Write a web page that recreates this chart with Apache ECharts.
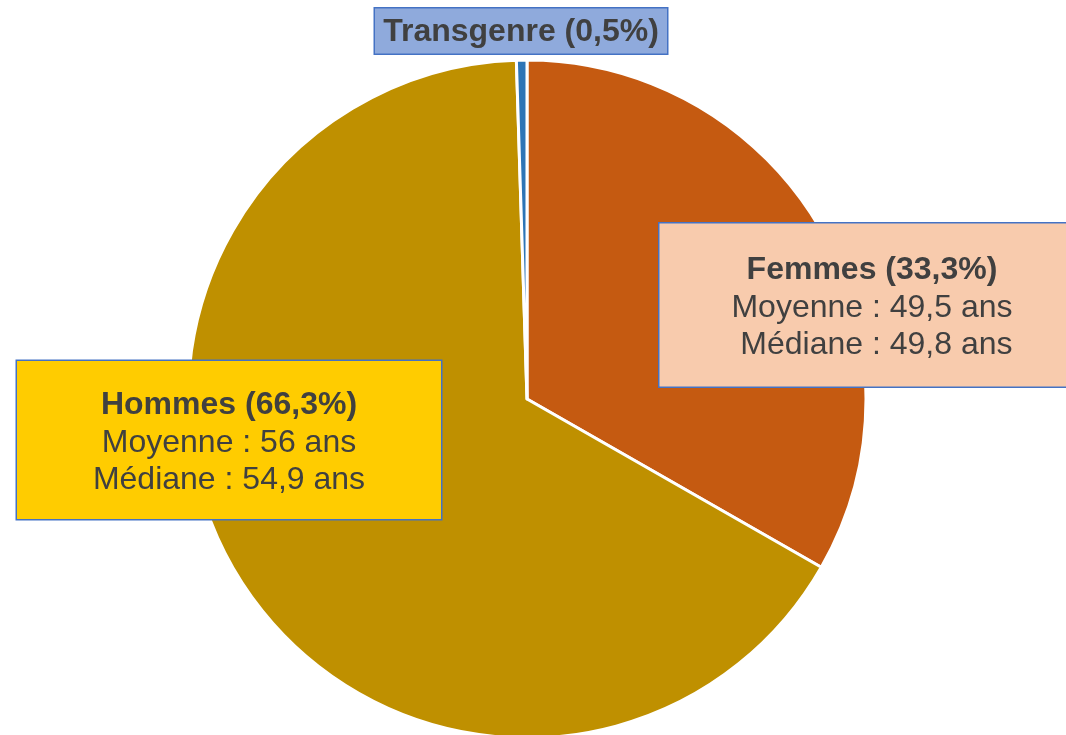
<!DOCTYPE html>
<html>
<head>
<meta charset="utf-8">
<script src="https://cdn.jsdelivr.net/npm/echarts@6/dist/echarts.min.js"></script>
<style>
  html, body { margin: 0; padding: 0; background: #fff; }
  #chart { width: 1066px; height: 735px; }
</style>
</head>
<body>
<div id="chart"></div>
<script>
// data
const categories = ['Femmes', 'Hommes', 'Transgenre'];
const shares = [33.3, 66.3, 0.5];
const meanAges = ['49,5', '56', null];
const medianAges = ['49,8', '54,9', null];

const sliceColors = ['#C55A11', '#BF9000', '#2E75B6'];
const boxColors = ['#F8CBAD', '#FFCC00', '#8FAADC'];
// label box centres, sizes and text nudge (layout only)
const boxLayout = [
  { x: 872, y: 305, w: 425, h: 163, dy: 3 },
  { x: 229, y: 440, w: 424, h: 158, dy: 3 },
  { x: 521, y: 31, w: 292, h: 45, dy: 1 }
];

const fmt = v => String(v).replace('.', ',');
const FONT = '"Liberation Sans", Arial, sans-serif';
const LH = 37.5;

const chart = echarts.init(document.getElementById('chart'));

const data = categories.map((name, i) => {
  let lines = ['{b|' + name + ' (' + fmt(shares[i]) + '%)}'];
  if (meanAges[i] !== null) {
    lines.push('{r|Moyenne : ' + meanAges[i] + ' ans}');
    lines.push('{r|' + (i === 0 ? ' ' : '') + 'Médiane : ' + medianAges[i] + ' ans}');
  }
  const box = boxLayout[i];
  const contentH = lines.length * LH;
  const pv = Math.max(0, (box.h - contentH) / 2);
  return {
    name: name,
    value: shares[i],
    itemStyle: { color: sliceColors[i] },
    label: {
      formatter: lines.join('\n'),
      backgroundColor: boxColors[i],
      borderColor: '#4472C4',
      borderWidth: 1.5,
      width: box.w,
      padding: [pv + box.dy, 0, pv - box.dy, 0],
      align: 'center'
    }
  };
});

chart.setOption({
  animation: false,
  series: [
    {
      type: 'pie',
      center: [527, 399],
      radius: 339,
      startAngle: 90,
      clockwise: true,
      silent: true,
      itemStyle: { borderColor: '#fff', borderWidth: 3 },
      emphasis: { disabled: true },
      labelLine: { show: false },
      label: {
        show: true,
        position: 'outside',
        color: '#404040',
        fontFamily: FONT,
        rich: {
          b: { fontSize: 32, fontWeight: 'bold', color: '#404040', lineHeight: LH, align: 'center', fontFamily: FONT },
          r: { fontSize: 32, color: '#404040', lineHeight: LH, align: 'center', fontFamily: FONT }
        }
      },
      labelLayout: function (params) {
        const box = boxLayout[params.dataIndex];
        return { x: box.x, y: box.y, align: 'center', verticalAlign: 'middle', hideOverlap: false };
      },
      data: data
    }
  ]
});
</script>
</body>
</html>
